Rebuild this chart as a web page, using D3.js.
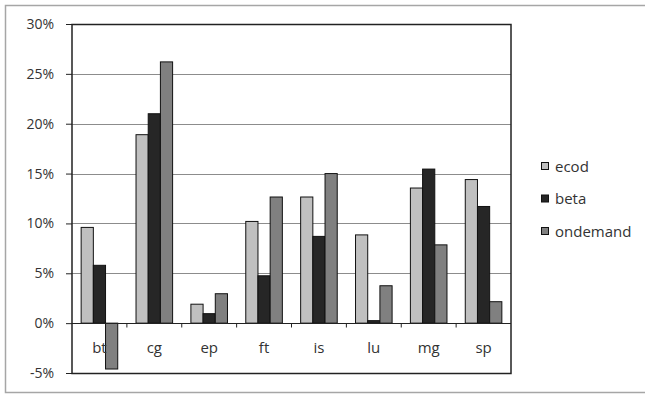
<!DOCTYPE html>
<html>
<head>
<meta charset="utf-8">
<script src="https://cdn.jsdelivr.net/npm/d3@7"></script>
<style>
  body { margin: 0; background: #fff; }
  text { font-family: "Open Sans", "Noto Sans", sans-serif; fill: #333; }
</style>
</head>
<body>
<svg id="drawing_region"></svg>
<script>
const categories = ["bt", "cg", "ep", "ft", "is", "lu", "mg", "sp"];
const seriesNames = ["ecod", "beta", "ondemand"];
const ecod = [9.6, 18.9, 1.9, 10.2, 12.65, 8.85, 13.55, 14.4];
const beta = [5.8, 21.0, 0.95, 4.75, 8.7, 0.25, 15.45, 11.7];
const ondemand = [-4.6, 26.2, 2.95, 12.65, 15.0, 3.75, 7.85, 2.15];
const yTicks = [-5, 0, 5, 10, 15, 20, 25, 30];
const colors = ["#c0c0c0", "#262626", "#808080"];

const seriesValues = [ecod, beta, ondemand];
const data = categories.map((c, i) => ({
    cat: c,
    values: seriesNames.map((s, j) => ({ key: s, value: seriesValues[j][i] }))
}));

const width = 645, height = 394;
const margin = {top: 24, left: 72, right: 134, bottom: 21};
const inner_width = width - margin.left - margin.right;
const inner_height = height - margin.top - margin.bottom;

const svg = d3.select('#drawing_region')
    .attr('width', width)
    .attr('height', height);

// outer chart frame
svg.append('rect')
    .attr('x', 5.5).attr('y', 5.5)
    .attr('width', width + 10).attr('height', 387)
    .attr('fill', 'none')
    .attr('stroke', '#a6a6a6')
    .attr('stroke-width', 1.5);

const chart = svg.append('g')
    .attr('transform', `translate(${margin.left}, ${margin.top})`);

const xscale = d3.scaleBand()
    .domain(categories)
    .range([0, inner_width])
    .paddingInner(0)
    .paddingOuter(0);

// gap width 150% -> bar width = band / 4.5
const barW = xscale.bandwidth() / 4.5;
const x1 = d3.scaleBand()
    .domain(seriesNames)
    .range([barW * 0.75, barW * 3.75]);

const yscale = d3.scaleLinear()
    .domain([-5, 30])
    .range([inner_height, 0]);

// gridlines
chart.append('g')
    .selectAll('line')
    .data(yTicks)
    .join('line')
    .attr('x1', 0).attr('x2', inner_width)
    .attr('y1', d => Math.round(yscale(d)) + 0.5)
    .attr('y2', d => Math.round(yscale(d)) + 0.5)
    .attr('stroke', '#8c8c8c')
    .attr('stroke-width', 1);

// y axis
const yaxis = d3.axisLeft(yscale)
    .tickValues(yTicks)
    .tickSize(6)
    .tickPadding(12)
    .tickFormat(d => d + '%');

const yaxis_group = chart.append('g').call(yaxis);
yaxis_group.select('.domain').remove();
yaxis_group.selectAll('line').attr('stroke', '#222');
yaxis_group.selectAll('text')
    .attr('font-size', '14px')
    .style('font-family', '"Open Sans", sans-serif')
    .attr('fill', '#444');

// bars
const groups = chart.selectAll('.grp')
    .data(data)
    .join('g')
    .attr('class', 'grp')
    .attr('transform', d => `translate(${xscale(d.cat)}, 0)`);

groups.selectAll('rect')
    .data(d => d.values)
    .join('rect')
    .attr('x', d => x1(d.key))
    .attr('width', x1.bandwidth())
    .attr('y', d => yscale(Math.max(0, d.value)))
    .attr('height', d => Math.abs(yscale(d.value) - yscale(0)))
    .attr('fill', (d, i) => colors[i])
    .attr('stroke', '#111')
    .attr('stroke-width', 1);

// plot frame
chart.append('rect')
    .attr('x', 0).attr('y', 0.5)
    .attr('width', inner_width).attr('height', inner_height)
    .attr('fill', 'none')
    .attr('stroke', '#222')
    .attr('stroke-width', 1.5);

// category axis at 0
const y0 = Math.round(yscale(0)) + 0.5;
chart.append('line')
    .attr('x1', 0).attr('x2', inner_width)
    .attr('y1', y0).attr('y2', y0)
    .attr('stroke', '#222');

chart.append('g')
    .selectAll('line')
    .data(categories.slice(1))
    .join('line')
    .attr('x1', d => xscale(d)).attr('x2', d => xscale(d))
    .attr('y1', y0).attr('y2', y0 + 4)
    .attr('stroke', '#222');

chart.append('g')
    .selectAll('text')
    .data(categories)
    .join('text')
    .attr('x', d => xscale(d) + xscale.bandwidth() / 2)
    .attr('y', yscale(-2.5) + 5)
    .attr('text-anchor', 'middle')
    .attr('font-size', '15px')
    .attr('fill', '#444')
    .text(d => d);

// legend
const legend = svg.append('g')
    .attr('transform', 'translate(541, 166)');

const items = legend.selectAll('g')
    .data(seriesNames)
    .join('g')
    .attr('transform', (d, i) => `translate(0, ${i * 32.5})`);

items.append('rect')
    .attr('x', 0.5).attr('y', -3.5)
    .attr('width', 7).attr('height', 7)
    .attr('fill', (d, i) => colors[i])
    .attr('stroke', '#111');

items.append('text')
    .attr('x', 14)
    .attr('y', 5.5)
    .attr('font-size', '15px')
    .attr('fill', '#444')
    .text(d => d);
</script>
</body>
</html>
